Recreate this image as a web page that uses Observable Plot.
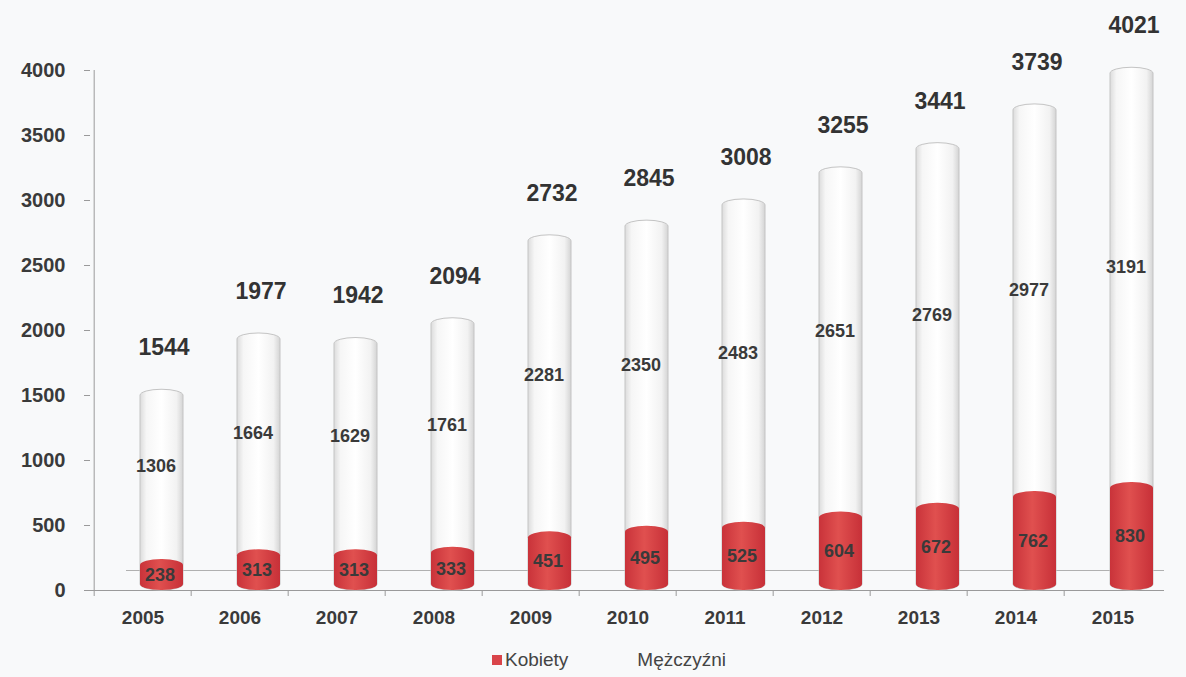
<!DOCTYPE html>
<html>
<head>
<meta charset="utf-8">
<script src="https://cdn.jsdelivr.net/npm/d3@7"></script>
<script src="https://cdn.jsdelivr.net/npm/@observablehq/plot@0.6"></script>
<style>
  html, body { margin: 0; padding: 0; background: #f8f9fa; }
  body { width: 1186px; height: 677px; overflow: hidden; font-family: "Liberation Sans", Arial, sans-serif; }
  #legend { display: flex; justify-content: center; gap: 56px; font-size: 19px; color: #444; margin-top: 4px; padding-left: 32px; }
  #legend span.sw { display: inline-block; width: 10px; height: 10px; margin-right: 3px; vertical-align: 1px; }
</style>
</head>
<body>
<svg width="0" height="0" style="position:absolute">
  <defs>
    <linearGradient id="gRed" x1="0" x2="1" y1="0" y2="0">
      <stop offset="0" stop-color="#c9333a"/>
      <stop offset="0.45" stop-color="#e0504f"/>
      <stop offset="1" stop-color="#c73038"/>
    </linearGradient>
    <linearGradient id="gWhite" x1="0" x2="1" y1="0" y2="0">
      <stop offset="0" stop-color="#dcdcdc"/>
      <stop offset="0.15" stop-color="#f6f6f6"/>
      <stop offset="0.5" stop-color="#ffffff"/>
      <stop offset="0.85" stop-color="#f2f2f2"/>
      <stop offset="1" stop-color="#d4d4d4"/>
    </linearGradient>
  </defs>
</svg>
<div id="chart"></div>
<div id="legend"></div>
<script>
const years = ["2005","2006","2007","2008","2009","2010","2011","2012","2013","2014","2015"];
const kobiety = [238, 313, 313, 333, 451, 495, 525, 604, 672, 762, 830];
const mezczyzni = [1306, 1664, 1629, 1761, 2281, 2350, 2483, 2651, 2769, 2977, 3191];
const totals = [1544, 1977, 1942, 2094, 2732, 2845, 3008, 3255, 3441, 3739, 4021];
const yTicks = [0, 500, 1000, 1500, 2000, 2500, 3000, 3500, 4000];

const rows = years.map((y, i) => ({year: y, k: kobiety[i], m: mezczyzni[i], t: totals[i]}));

const W = 1186, H = 645, ML = 90, MR = 22;
const step = (W - ML - MR) / years.length;
const barDx = 19;

const chart = Plot.plot({
  width: W,
  height: H,
  marginLeft: ML,
  marginRight: MR,
  marginTop: 70,
  marginBottom: 55,
  style: {background: "transparent", fontFamily: "Liberation Sans, Arial, sans-serif"},
  x: {domain: years, paddingInner: 0.56, paddingOuter: 0.28, label: null},
  y: {domain: [0, 4000], label: null},
  marks: [
    // 3D floor back edge
    Plot.ruleY([0], {dx: 36, dy: -20, insetRight: 36, stroke: "#b0b0b0", strokeWidth: 1}),
    Plot.ruleY([0], {stroke: "#9a9a9a", strokeWidth: 1.2}),
    Plot.ruleX(years, {x: d => d, y1: 0, y2: 0, insetBottom: -6, dx: -step / 2, stroke: "#9a9a9a"}),
    Plot.axisY({ticks: yTicks, tickFormat: d => String(d), tickSize: 6, tickPadding: 19, fontSize: 20, fontWeight: "bold", color: "#3a3a3a", stroke: "#9a9a9a"}),
    Plot.ruleX([0], {x: () => years[0], y1: 0, y2: 4000, dx: -step / 2, stroke: "#9a9a9a"}),
    Plot.axisX({tickSize: 0, tickPadding: 20, fontSize: 19, fontWeight: "bold", color: "#3a3a3a"}),
    // cylinders: white (Mężczyźni) full height, red (Kobiety) at bottom
    Plot.barY(rows, {x: "year", y1: 0, y2: "t", dx: barDx, fill: "url(#gWhite)", stroke: "#c4c4c4", strokeWidth: 1, rx: 21, ry: 6}),
    Plot.barY(rows, {x: "year", y1: 0, y2: "k", dx: barDx, fill: "url(#gRed)", rx: 21, ry: 6}),
    Plot.text(rows, {x: "year", y: d => d.k / 2, text: d => String(d.k), dx: barDx - 2, fontSize: 18, fill: "#3a3a3a", fontWeight: "bold"}),
    Plot.text(rows, {x: "year", y: d => d.k + d.m / 2, text: d => String(d.m), dx: barDx - 6, dy: -8, fontSize: 18, fill: "#3a3a3a", fontWeight: "bold"}),
    Plot.text(rows, {x: "year", y: "t", text: d => String(d.t), dx: barDx + 2, dy: -42, fontSize: 23, fill: "#333", fontWeight: "bold"})
  ]
});
document.getElementById("chart").appendChild(chart);

const legendItems = [
  {label: "Kobiety", color: "#d9444a"},
  {label: "Mężczyźni", color: "transparent"}
];
const lg = document.getElementById("legend");
legendItems.forEach(it => {
  const d = document.createElement("div");
  d.innerHTML = `<span class="sw" style="background:${it.color}"></span>${it.label}`;
  lg.appendChild(d);
});
</script>
</body>
</html>
